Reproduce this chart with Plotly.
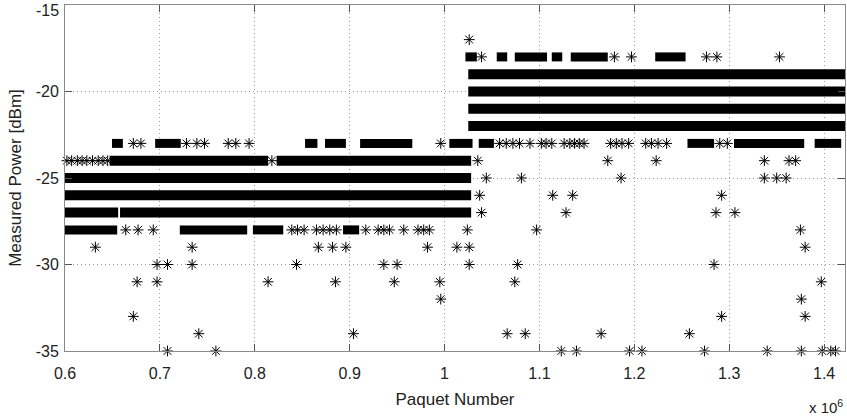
import plotly.graph_objects as go

# x values in thousands of packets (axis shows x 10^6)
# Dense bands (solid runs of overlapping markers): level, start, end
band_level = [-24, -24, -25, -26, -27, -27, -19, -20, -21, -22]
band_start = [647, 823, 600, 600, 600, 658, 1025, 1025, 1025, 1025]
band_end = [814, 1028, 1028, 1028, 656, 1028, 1422, 1422, 1422, 1422]

# Clusters of overlapping markers: level, start, end
blob_level = [-28, -28, -28, -28,
              -23, -23, -23, -23, -23, -23, -23, -23, -23, -23,
              -18, -18, -18, -18, -18, -18]
blob_start = [600, 721, 798, 893,
              649.5, 695, 853, 874, 911, 1005, 1036, 1256, 1305, 1390,
              1022, 1055, 1074, 1113, 1133, 1222]
blob_end = [655, 792, 830, 910,
            661, 722, 866, 896, 966, 1029.5, 1052, 1284, 1379, 1418,
            1034, 1066, 1108, 1124, 1172, 1254]

# Individual markers per power level
pts_m17 = [1026]
pts_m18 = [1039, 1179, 1197, 1276, 1287, 1353]
pts_m23 = [672, 680, 728, 739, 747, 772, 780, 794, 996, 1058, 1065, 1072, 1079,
           1090, 1102, 1107, 1113, 1126, 1132, 1137, 1142, 1147, 1175, 1181,
           1187, 1194, 1212, 1218, 1225, 1234, 1290, 1298]
pts_m24 = [602, 607, 613, 618, 623, 629, 635, 640, 645, 818, 1035, 1172, 1223,
           1337, 1363, 1370]
pts_m25 = [1044, 1081, 1186, 1337, 1350, 1360]
pts_m26 = [1037, 1114, 1135, 1292]
pts_m27 = [1039, 1128, 1286, 1306]
pts_m28 = [664, 677, 693, 839, 845, 852, 865, 872, 879, 886, 917, 930, 936, 942,
           957, 972, 978, 984, 1024, 1097, 1375]
pts_m29 = [632, 734, 867, 882, 896, 982, 1013, 1026, 1380]
pts_m30 = [697, 708, 734, 844, 936, 950, 1026, 1077, 1284]
pts_m31 = [676, 697, 814, 885, 947, 995, 1074, 1397]
pts_m32 = [996, 1376]
pts_m33 = [672, 1292, 1380]
pts_m34 = [741, 904, 1066, 1085, 1165, 1258]
pts_m35 = [708, 759, 1123, 1139, 1195, 1208, 1274, 1340, 1376, 1398, 1407, 1412]

points = {-17: pts_m17, -18: pts_m18, -23: pts_m23, -24: pts_m24, -25: pts_m25,
          -26: pts_m26, -27: pts_m27, -28: pts_m28, -29: pts_m29, -30: pts_m30,
          -31: pts_m31, -32: pts_m32, -33: pts_m33, -34: pts_m34, -35: pts_m35}

x_tickvals = [600, 700, 800, 900, 1000, 1100, 1200, 1300, 1400]
x_ticktext = ["0.6", "0.7", "0.8", "0.9", "1", "1.1", "1.2", "1.3", "1.4"]
y_tickvals = [-35, -30, -25, -20]
y_ticktext = ["-35", "-30", "-25", "-20"]
y_top_label = "-15"


def segs(levels, starts, ends):
    xs, ys = [], []
    for lv, a, b in zip(levels, starts, ends):
        xs += [a, b, None]
        ys += [lv, lv, None]
    return xs, ys


fig = go.Figure()
bx, by = segs(band_level, band_start, band_end)
fig.add_trace(go.Scatter(x=bx, y=by, mode="lines",
                         line=dict(color="black", width=10),
                         hoverinfo="skip", showlegend=False, cliponaxis=False))
cx, cy = segs(blob_level, blob_start, blob_end)
fig.add_trace(go.Scatter(x=cx, y=cy, mode="lines",
                         line=dict(color="black", width=9),
                         hoverinfo="skip", showlegend=False, cliponaxis=False))

px_, py_ = [], []
for lv, xs in points.items():
    px_ += xs
    py_ += [lv] * len(xs)
fig.add_trace(go.Scatter(x=px_, y=py_, mode="markers",
                         marker=dict(symbol="asterisk-open", size=9,
                                     color="black",
                                     line=dict(color="black", width=1)),
                         showlegend=False, cliponaxis=False))

FONT = "Liberation Sans, Arial, sans-serif"
axis_common = dict(showline=True, linecolor="#8a8a8a", linewidth=1,
                   mirror="ticks", ticks="inside", ticklen=7,
                   tickcolor="#555555", showgrid=True, gridcolor="#9a9a9a",
                   griddash="1px,3px", gridwidth=1, zeroline=False,
                   tickfont=dict(family=FONT, size=16, color="#222222"))
font_t = dict(family=FONT, size=17, color="#222222")

fig.update_xaxes(range=[600, 1422], tickvals=x_tickvals, ticktext=x_ticktext,
                 ticklabelstandoff=8,
                 title=dict(text="Paquet Number", font=font_t, standoff=11),
                 **axis_common)
fig.update_yaxes(range=[-35, -15], tickvals=y_tickvals, ticktext=y_ticktext,
                 ticklabelstandoff=2,
                 title=dict(text="Measured Power [dBm]", font=font_t, standoff=9),
                 **axis_common)

# top y tick label, nudged inside the page like the reference
fig.add_annotation(text=y_top_label, xref="paper", yref="paper",
                   x=0, y=1.0, xshift=-4, yshift=-5, xanchor="right",
                   yanchor="middle", showarrow=False,
                   font=dict(family=FONT, size=16, color="#222222"))
fig.add_annotation(text="x 10<sup>6</sup>", xref="paper", yref="paper",
                   x=1.0, y=-0.16, xanchor="right", yanchor="middle",
                   showarrow=False,
                   font=dict(family=FONT, size=15, color="#222222"))

fig.update_layout(width=847, height=418, paper_bgcolor="white",
                  plot_bgcolor="white",
                  margin=dict(l=65, r=2, t=5, b=67), showlegend=False)

fig.write_html("out.html")
